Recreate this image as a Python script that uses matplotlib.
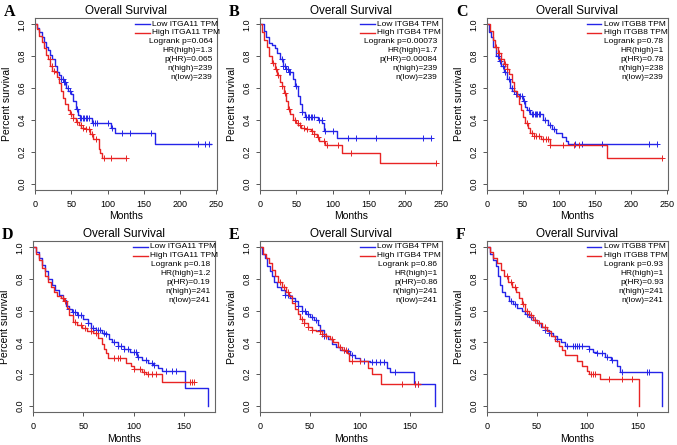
import numpy as np
import matplotlib
matplotlib.use("Agg")
import matplotlib.pyplot as plt

plt.rcParams['font.family'] = ['Liberation Sans', 'DejaVu Sans']

# ---- data: step points (months, survival) + censor times ----
# A: ITGA11 (top row)
a_low_t = [0, 3, 6, 9, 12, 15, 18, 21, 24, 27, 30, 33, 36, 40, 43, 46, 50, 53, 56, 59, 62, 78, 105, 110, 166]
a_low_s = [1.0, 0.98, 0.95, 0.92, 0.89, 0.86, 0.84, 0.81, 0.78, 0.74, 0.70, 0.68, 0.66, 0.64, 0.60, 0.58, 0.56, 0.52, 0.47, 0.43, 0.41, 0.38, 0.35, 0.315, 0.25]
a_low_end = 243
a_low_c = [36, 38, 40, 42, 45, 48, 58, 62, 64, 66, 68, 70, 72, 74, 80, 83, 86, 100, 106, 120, 131, 160, 225, 235, 240]
a_high_t = [0, 3, 6, 9, 12, 15, 18, 21, 24, 27, 30, 33, 36, 39, 42, 45, 48, 52, 56, 60, 64, 70, 76, 80, 88, 89, 92]
a_high_s = [1.0, 0.97, 0.93, 0.89, 0.85, 0.81, 0.78, 0.74, 0.71, 0.70, 0.67, 0.63, 0.58, 0.54, 0.50, 0.46, 0.44, 0.41, 0.39, 0.37, 0.35, 0.34, 0.31, 0.28, 0.22, 0.19, 0.16]
a_high_end = 126
a_high_c = [20, 23, 26, 50, 53, 58, 63, 66, 70, 74, 78, 84, 95, 105, 126]

# B: ITGB4 (top row)
b_low_t = [0, 5, 8, 12, 17, 20, 24, 28, 32, 36, 40, 45, 48, 52, 55, 58, 62, 80, 86, 88, 106]
b_low_s = [1.0, 0.96, 0.92, 0.88, 0.87, 0.85, 0.82, 0.78, 0.74, 0.72, 0.70, 0.66, 0.61, 0.55, 0.50, 0.45, 0.42, 0.40, 0.38, 0.33, 0.285]
b_low_end = 236
b_low_c = [30, 32, 34, 36, 38, 40, 42, 50, 58, 63, 66, 68, 70, 72, 74, 82, 85, 90, 100, 122, 132, 160, 225, 236]
b_high_t = [0, 3, 6, 9, 13, 16, 20, 23, 27, 30, 33, 36, 39, 42, 46, 50, 53, 57, 62, 70, 75, 78, 82, 90, 113, 166]
b_high_s = [1.0, 0.95, 0.90, 0.86, 0.80, 0.76, 0.72, 0.68, 0.64, 0.61, 0.57, 0.52, 0.47, 0.44, 0.40, 0.38, 0.37, 0.35, 0.34, 0.33, 0.31, 0.29, 0.27, 0.24, 0.195, 0.13]
b_high_end = 243
b_high_c = [18, 22, 25, 30, 35, 40, 48, 52, 55, 60, 65, 72, 75, 80, 88, 92, 108, 126, 243]

# C: ITGB8 (top row)
c_low_t = [0, 3, 6, 9, 13, 17, 20, 24, 28, 32, 35, 40, 45, 50, 53, 56, 60, 78, 84, 90, 96, 104, 110, 113]
c_low_s = [1.0, 0.95, 0.92, 0.86, 0.80, 0.77, 0.74, 0.70, 0.66, 0.60, 0.58, 0.56, 0.55, 0.52, 0.48, 0.46, 0.44, 0.40, 0.37, 0.34, 0.32, 0.29, 0.27, 0.25]
c_low_end = 236
c_low_c = [15, 18, 22, 25, 30, 34, 37, 40, 42, 46, 48, 52, 58, 62, 64, 66, 68, 70, 72, 74, 80, 88, 93, 122, 132, 160, 225, 236]
c_high_t = [0, 4, 8, 11, 15, 19, 24, 28, 31, 35, 38, 41, 44, 47, 50, 53, 57, 60, 65, 75, 88, 166]
c_high_s = [1.0, 0.96, 0.90, 0.86, 0.82, 0.78, 0.75, 0.72, 0.69, 0.64, 0.58, 0.55, 0.50, 0.46, 0.42, 0.38, 0.35, 0.32, 0.30, 0.28, 0.24, 0.16]
c_high_end = 243
c_high_c = [12, 16, 20, 25, 28, 55, 62, 65, 68, 72, 78, 82, 85, 88, 105, 120, 128, 243]

# D: ITGA11 (bottom row)
d_low_t = [0, 3, 6, 9, 12, 15, 19, 22, 26, 30, 33, 36, 39, 44, 50, 55, 58, 62, 68, 72, 75, 78, 84, 90, 96, 103, 108, 114, 119, 124, 128, 151, 174]
d_low_s = [1.0, 0.97, 0.93, 0.89, 0.85, 0.80, 0.76, 0.73, 0.70, 0.67, 0.63, 0.61, 0.59, 0.57, 0.55, 0.52, 0.49, 0.48, 0.46, 0.45, 0.42, 0.40, 0.38, 0.36, 0.34, 0.31, 0.29, 0.27, 0.26, 0.24, 0.22, 0.11, 0.0]
d_low_end = 174
d_low_c = [36, 40, 42, 45, 48, 55, 60, 62, 64, 66, 70, 72, 80, 84, 87, 90, 94, 100, 102, 104, 112, 118, 120, 132, 138, 142]
d_high_t = [0, 3, 6, 9, 12, 15, 18, 21, 24, 28, 31, 34, 36, 40, 44, 49, 54, 60, 64, 68, 70, 72, 74, 92, 97, 100, 108, 112, 128]
d_high_s = [1.0, 0.96, 0.92, 0.87, 0.82, 0.78, 0.75, 0.72, 0.69, 0.68, 0.66, 0.62, 0.57, 0.53, 0.51, 0.49, 0.47, 0.46, 0.43, 0.39, 0.36, 0.33, 0.30, 0.27, 0.25, 0.23, 0.21, 0.20, 0.15]
d_high_end = 160
d_high_c = [30, 32, 42, 48, 52, 58, 62, 80, 84, 86, 100, 106, 110, 114, 118, 122, 156, 158, 160]

# E: ITGB4 (bottom row)
e_low_t = [0, 2, 5, 7, 10, 12, 14, 17, 21, 25, 30, 35, 38, 42, 46, 50, 54, 58, 60, 64, 68, 72, 76, 80, 85, 90, 95, 100, 110, 127, 130, 154, 175]
e_low_s = [1.0, 0.96, 0.93, 0.88, 0.85, 0.82, 0.78, 0.75, 0.73, 0.70, 0.68, 0.66, 0.63, 0.60, 0.58, 0.56, 0.54, 0.51, 0.48, 0.44, 0.42, 0.39, 0.37, 0.35, 0.345, 0.32, 0.30, 0.28, 0.275, 0.24, 0.21, 0.14, 0.0]
e_low_end = 175
e_low_c = [25, 28, 32, 35, 38, 42, 45, 48, 52, 56, 60, 64, 84, 88, 92, 104, 112, 116, 120, 124, 135, 155, 158]
e_high_t = [0, 3, 6, 9, 12, 15, 18, 22, 26, 29, 32, 35, 38, 40, 44, 48, 52, 56, 62, 66, 70, 73, 78, 82, 87, 89, 108, 112, 121]
e_high_s = [1.0, 0.96, 0.93, 0.90, 0.86, 0.82, 0.78, 0.75, 0.72, 0.69, 0.65, 0.61, 0.58, 0.55, 0.52, 0.50, 0.48, 0.47, 0.45, 0.44, 0.42, 0.40, 0.37, 0.35, 0.33, 0.28, 0.24, 0.20, 0.14]
e_high_end = 160
e_high_c = [20, 24, 28, 42, 44, 48, 52, 60, 62, 66, 72, 80, 84, 86, 92, 100, 142, 155, 158]

# F: ITGB8 (bottom row)
f_low_t = [0, 3, 6, 9, 11, 13, 15, 18, 22, 26, 30, 35, 38, 42, 46, 50, 54, 58, 62, 66, 70, 74, 78, 102, 106, 110, 118, 124, 130, 133, 175]
f_low_s = [1.0, 0.96, 0.92, 0.88, 0.82, 0.76, 0.72, 0.69, 0.66, 0.64, 0.62, 0.60, 0.58, 0.56, 0.54, 0.52, 0.50, 0.48, 0.46, 0.44, 0.42, 0.40, 0.38, 0.36, 0.34, 0.33, 0.31, 0.29, 0.25, 0.21, 0.0]
f_low_end = 175
f_low_c = [24, 28, 40, 44, 48, 58, 62, 70, 80, 86, 88, 90, 92, 95, 102, 110, 115, 120, 125, 135, 160, 162]
f_high_t = [0, 3, 6, 10, 14, 17, 21, 25, 29, 32, 35, 38, 42, 46, 50, 55, 60, 64, 68, 72, 75, 78, 90, 95, 100, 102, 113, 152]
f_high_s = [1.0, 0.97, 0.93, 0.90, 0.86, 0.82, 0.78, 0.75, 0.72, 0.68, 0.64, 0.60, 0.57, 0.54, 0.52, 0.50, 0.47, 0.44, 0.41, 0.38, 0.35, 0.32, 0.28, 0.25, 0.22, 0.20, 0.17, 0.0]
f_high_end = 152
f_high_c = [20, 24, 28, 36, 40, 44, 48, 52, 58, 104, 106, 108, 122, 135, 145]

letters = ["A", "B", "C", "D", "E", "F"]
genes = ["ITGA11", "ITGB4", "ITGB8", "ITGA11", "ITGB4", "ITGB8"]
logrank = ["0.064", "0.00073", "0.78", "0.18", "0.86", "0.93"]
hr = ["1.3", "1.7", "1", "1.2", "1", "1"]
p_hr = ["0.065", "0.00084", "0.78", "0.19", "0.86", "0.93"]
n_high = [239, 239, 238, 241, 241, 241]
n_low = [239, 239, 239, 241, 241, 241]

curves = [
    (a_low_t, a_low_s, a_low_end, a_low_c, a_high_t, a_high_s, a_high_end, a_high_c),
    (b_low_t, b_low_s, b_low_end, b_low_c, b_high_t, b_high_s, b_high_end, b_high_c),
    (c_low_t, c_low_s, c_low_end, c_low_c, c_high_t, c_high_s, c_high_end, c_high_c),
    (d_low_t, d_low_s, d_low_end, d_low_c, d_high_t, d_high_s, d_high_end, d_high_c),
    (e_low_t, e_low_s, e_low_end, e_low_c, e_high_t, e_high_s, e_high_end, e_high_c),
    (f_low_t, f_low_s, f_low_end, f_low_c, f_high_t, f_high_s, f_high_end, f_high_c),
]

BLUE = "#2424e8"
RED = "#e82424"
W, H = 677, 445

fig = plt.figure(figsize=(W / 100, H / 100), dpi=100)

# axes boxes in pixels: left, top, right, bottom
boxes = [
    (35, 18, 217, 190), (260, 18, 442, 190), (487, 18, 668, 190),
    (33, 241, 215, 412), (260, 241, 442, 412), (487, 241, 668, 412),
]
xmax = [251, 251, 251, 180.5, 182, 180.5]
xticks_top = [0, 50, 100, 150, 200, 250]
xticks_bot = [0, 50, 100, 150]


def draw_km(ax, t, s, end, cens, color):
    t = list(t) + [end]
    s = list(s) + [s[-1]]
    ax.step(t, s, where="post", color=color, lw=1.0)
    idx = np.searchsorted(t, cens, side="right") - 1
    cy = np.array(s)[idx]
    ax.plot(cens, cy, ls="none", marker="+", ms=4, mew=0.7, color=color)


for i in range(6):
    l, tp, r, b = boxes[i]
    ax = fig.add_axes([l / W, 1 - b / H, (r - l) / W, (b - tp) / H])
    lt, ls_, le, lc, ht, hs, he, hc = curves[i]
    draw_km(ax, lt, ls_, le, lc, BLUE)
    draw_km(ax, ht, hs, he, hc, RED)
    ax.set_xlim(0, xmax[i])
    ax.set_ylim(-0.04, 1.04)
    ax.set_xticks(xticks_top if i < 3 else xticks_bot)
    ax.set_yticks([0.0, 0.2, 0.4, 0.6, 0.8, 1.0])
    ax.set_yticklabels(["0.0", "0.2", "0.4", "0.6", "0.8", "1.0"], rotation=90, va="center")
    ax.tick_params(labelsize=6.5, length=3, width=0.7, color="#555555", pad=3)
    ax.tick_params(axis="x", pad=4)
    for sp in ax.spines.values():
        sp.set_color("#666666")
        sp.set_linewidth(0.8)
    ax.set_xlabel("Months", fontsize=7.5, labelpad=2)
    ax.set_ylabel("Percent survival", fontsize=7.5, labelpad=4)
    ax.set_title("Overall Survival", fontsize=8.5, pad=3)

    # legend block
    lines = [BLUE, RED]
    labels = ["Low %s TPM" % genes[i], "High %s TPM" % genes[i]]
    y0, dy = 0.965, 0.052
    for k in range(2):
        ax.plot([0.55, 0.63], [y0 - k * dy] * 2, color=lines[k], lw=1.0, transform=ax.transAxes)
        ax.text(0.645, y0 - k * dy, labels[k], fontsize=6, va="center", ha="left", transform=ax.transAxes)
    stats = ["Logrank p=%s" % logrank[i], "HR(high)=%s" % hr[i], "p(HR)=%s" % p_hr[i],
             "n(high)=%d" % n_high[i], "n(low)=%d" % n_low[i]]
    for k, st in enumerate(stats):
        ax.text(0.975, y0 - (k + 2) * dy, st, fontsize=6, va="center", ha="right", transform=ax.transAxes)

    fig.text((l - 31) / W, 1 - (tp - 6) / H, letters[i], fontsize=11.5, fontweight="bold",
             family="Liberation Serif", va="center", ha="left")

fig.savefig("out.png", dpi=100)
